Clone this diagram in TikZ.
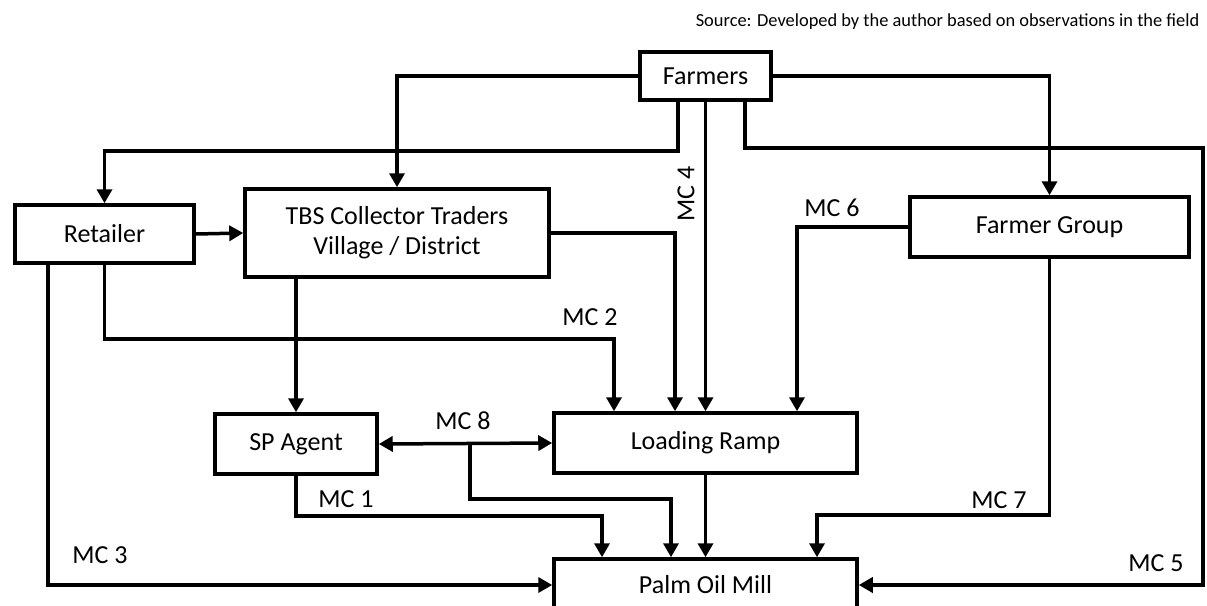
\documentclass[tikz,border=0pt]{standalone}
\usepackage{fontspec}
\setmainfont{Carlito}
\usetikzlibrary{arrows.meta}

\tikzstyle{format}=[rectangle,draw,fill=white,line width=3.5pt,inner sep=0pt,font=\fontsize{26pt}{30pt}\selectfont,align=center]
\tikzstyle{mclabel}=[inner sep=0pt,font=\fontsize{26pt}{30pt}\selectfont]

\begin{document}
\begin{tikzpicture}[x=1pt,y=-1pt,line width=3.5pt,>={Triangle[length=14pt,width=15pt]}]
		\useasboundingbox (0,0) rectangle (1207,605);
		\node[anchor=east,inner sep=0pt,font=\fontsize{18.4pt}{22pt}\selectfont] (source) at (1201,22) {Source: Developed by the author based on observations in the field};
		\node[format,minimum width=131,minimum height=48] (farmers) at (705.5,76){Farmers};
		\node[format,minimum width=179,minimum height=58] (retailer) at (104.5,234){Retailer};
		\node[format,minimum width=304,minimum height=88] (collector) at (397,233){TBS Collector Traders\\Village / District};
		\node[format,minimum width=279,minimum height=60] (group) at (1049.5,227){Farmer Group};
		\node[format,minimum width=162,minimum height=60] (agent) at (296,444){SP Agent};
		\node[format,minimum width=303,minimum height=60] (ramp) at (705.5,443){Loading Ramp};
		\node[format,minimum width=303,minimum height=52] (mill) at (705.5,585){Palm Oil Mill};
		\coordinate (mctwo) at (614,339);
		\coordinate (mcfive) at (1203,148);
		\coordinate (mceight) at (470,443);
		\draw[->] (farmers.west) -| (collector.north);
		\draw[->] (farmers.east) -| (group.north);
		\draw[->] ([xshift=-27.5]farmers.south) -- ++(0,49) -| (retailer.north);
		\draw[->] (farmers.south) -- (ramp.north);
		\draw[->] ([xshift=39.5]farmers.south) |- (mcfive) |- (mill.east);
		\draw[->] (retailer.east) -- (collector.west);
		\draw[->] ([xshift=-56.5]retailer.south) |- (mill.west);
		\draw[->] (retailer.south) |- (mctwo) -- (mctwo |- ramp.north);
		\draw[->] (collector.east) -| ([xshift=-30.5]ramp.north);
		\draw[->] (group.west) -| ([xshift=91.5]ramp.north);
		\draw[->] (agent.north |- collector.south) -- (agent.north);
		\draw[<->] (agent.east) -- (ramp.west);
		\draw[->] (mceight) -- ++(0,56) -| ([xshift=-34.5]mill.north);
		\draw[->] (agent.south) -- ++(0,40) -| ([xshift=-103.5]mill.north);
		\draw[->] (ramp.south) -- (mill.north);
		\draw[->] (group.south) -- ++(0,256) -| ([xshift=111.5]mill.north);
		\node[mclabel] (mc1) at (346,499){MC 1};
		\node[mclabel] (mc2) at (590,317){MC 2};
		\node[mclabel] (mc3) at (100,555){MC 3};
		\node[mclabel,rotate=90] (mc4) at (686,194){MC 4};
		\node[mclabel] (mc5) at (1156,563){MC 5};
		\node[mclabel] (mc6) at (832,208){MC 6};
		\node[mclabel] (mc7) at (999,500){MC 7};
		\node[mclabel] (mc8) at (463,421){MC 8};
	\end{tikzpicture}
\end{document}
